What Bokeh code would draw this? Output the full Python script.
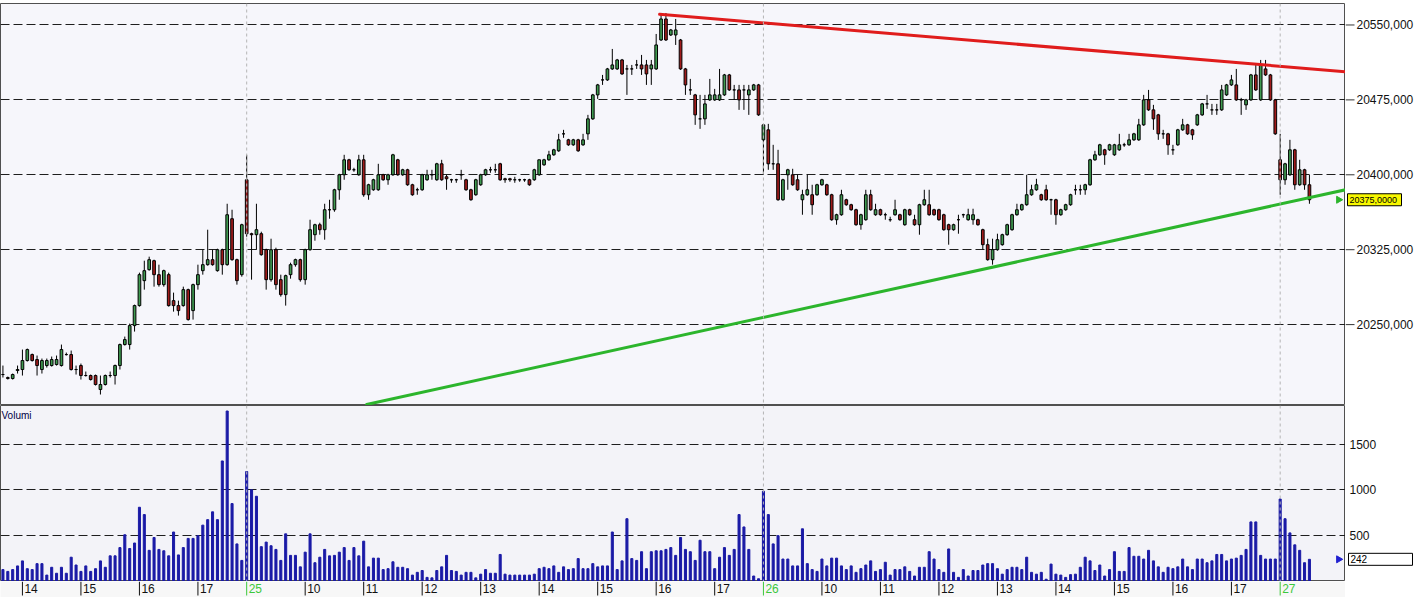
import numpy as np
from bokeh.plotting import figure
from bokeh.models import (ColumnDataSource, Range1d, FixedTicker, Span, Label, Grid)
from bokeh.layouts import column, row
from bokeh.embed import file_html
from bokeh.resources import INLINE
from bokeh.core.properties import value

# ---------------- data (5-minute bars, index 0 = 13:40 of first day) ----------------
opens = [20200, 20197, 20196, 20204, 20205, 20214, 20220, 20215, 20205, 20209,
         20209, 20210, 20209, 20220, 20220, 20205, 20209, 20199, 20199, 20199,
         20185, 20190, 20199, 20199, 20209, 20230, 20230, 20249, 20269, 20294,
         20305, 20314, 20300, 20290, 20300, 20274, 20269, 20269, 20285, 20264,
         20290, 20304, 20310, 20315, 20304, 20325, 20310, 20356, 20315, 20300,
         # day 25
         20395, 20341, 20340, 20341, 20325, 20295, 20325, 20295, 20280, 20300,
         20310, 20315, 20295, 20325, 20340, 20350, 20345, 20365, 20365, 20385,
         20400, 20415, 20405, 20400, 20415, 20380, 20385, 20385, 20400, 20395,
         20400, 20415, 20400, 20405, 20390, 20385, 20385, 20395, 20400, 20395,
         20411, 20398, 20395, 20395, 20400, 20395, 20385, 20380, 20390, 20400,
         20405, 20405, 20411, 20396, 20396, 20395, 20395, 20395, 20395, 20395,
         20400, 20410, 20415, 20420, 20424, 20441, 20435, 20430, 20435, 20430,
         20441, 20456, 20480, 20495, 20495, 20506, 20506, 20515, 20506, 20506,
         20510, 20510, 20510, 20506, 20506, 20535, 20556, 20540, 20540, 20535,
         20506, 20485, 20480, 20456, 20456, 20475, 20475, 20475, 20480, 20500,
         20485, 20485, 20485, 20480, 20485, 20490,
         # day 26
         20435, 20445, 20411, 20411, 20375, 20400, 20400, 20395, 20375, 20380,
         20380, 20380, 20390, 20390, 20380, 20355, 20360, 20375, 20370, 20365,
         20350, 20355, 20380, 20360, 20365, 20360, 20355, 20360, 20360, 20350,
         20365, 20355, 20350, 20370, 20370, 20365, 20365, 20360, 20350, 20345,
         20355, 20360, 20355, 20355, 20355, 20345, 20330, 20315, 20325, 20330,
         20340, 20345, 20360, 20365, 20370, 20380, 20385, 20380, 20385, 20375,
         20375, 20360, 20365, 20370, 20385, 20385, 20385, 20390, 20415, 20420,
         20425, 20425, 20420, 20425, 20430, 20430, 20435, 20435, 20450, 20475,
         20465, 20460, 20441, 20441, 20425, 20430, 20445, 20450, 20445, 20450,
         20460, 20471, 20465, 20465, 20465, 20480, 20490, 20490, 20475, 20470,
         20475, 20500, 20475, 20506, 20500, 20475,
         # day 27
         20415, 20395, 20400, 20425, 20390, 20405, 20390]

highs = [20209, 20198, 20201, 20209, 20225, 20226, 20221, 20219, 20216, 20216,
         20218, 20219, 20230, 20222, 20224, 20209, 20211, 20203, 20200, 20200,
         20199, 20200, 20203, 20210, 20231, 20238, 20251, 20270, 20302, 20314,
         20318, 20315, 20310, 20305, 20302, 20282, 20274, 20288, 20286, 20291,
         20310, 20325, 20345, 20325, 20326, 20326, 20371, 20365, 20316, 20351,
         20420, 20342, 20371, 20343, 20326, 20336, 20327, 20300, 20300, 20312,
         20316, 20316, 20326, 20355, 20351, 20352, 20371, 20375, 20386, 20401,
         20420, 20416, 20407, 20420, 20420, 20391, 20396, 20411, 20401, 20401,
         20421, 20416, 20406, 20406, 20391, 20387, 20401, 20405, 20405, 20412,
         20415, 20400, 20396, 20396, 20405, 20396, 20386, 20396, 20401, 20406,
         20408, 20411, 20412, 20397, 20397, 20398, 20396, 20396, 20396, 20406,
         20415, 20416, 20424, 20426, 20441, 20445, 20436, 20436, 20436, 20441,
         20460, 20481, 20491, 20500, 20507, 20526, 20516, 20516, 20510, 20510,
         20515, 20520, 20515, 20515, 20541, 20560, 20562, 20546, 20556, 20536,
         20507, 20496, 20481, 20480, 20480, 20496, 20486, 20506, 20501, 20501,
         20490, 20490, 20490, 20490, 20491, 20491,
         20451, 20451, 20430, 20425, 20396, 20406, 20406, 20400, 20385, 20400,
         20390, 20391, 20396, 20391, 20381, 20361, 20385, 20376, 20371, 20366,
         20361, 20385, 20385, 20371, 20366, 20362, 20358, 20375, 20361, 20366,
         20366, 20360, 20371, 20385, 20385, 20366, 20366, 20361, 20351, 20351,
         20360, 20361, 20366, 20366, 20356, 20346, 20336, 20336, 20341, 20341,
         20351, 20361, 20371, 20371, 20400, 20390, 20396, 20381, 20390, 20376,
         20376, 20366, 20371, 20381, 20390, 20390, 20391, 20416, 20424, 20431,
         20426, 20431, 20431, 20441, 20432, 20441, 20442, 20456, 20480, 20485,
         20470, 20461, 20445, 20442, 20430, 20446, 20456, 20451, 20446, 20461,
         20472, 20480, 20471, 20471, 20490, 20491, 20500, 20506, 20477, 20476,
         20501, 20510, 20515, 20515, 20501, 20476,
         20441, 20412, 20435, 20426, 20415, 20406, 20400]

lows = [20197, 20195, 20195, 20201, 20199, 20213, 20213, 20199, 20201, 20207,
        20208, 20209, 20208, 20219, 20204, 20200, 20195, 20198, 20194, 20189,
        20180, 20189, 20197, 20190, 20205, 20229, 20225, 20243, 20268, 20285,
        20304, 20288, 20288, 20288, 20268, 20263, 20259, 20268, 20254, 20255,
        20285, 20300, 20309, 20309, 20303, 20300, 20309, 20314, 20290, 20298,
        20338, 20295, 20325, 20319, 20285, 20293, 20285, 20278, 20269, 20296,
        20308, 20293, 20290, 20324, 20334, 20340, 20335, 20356, 20363, 20375,
        20395, 20404, 20403, 20399, 20378, 20375, 20384, 20384, 20394, 20390,
        20399, 20399, 20399, 20389, 20379, 20380, 20384, 20394, 20395, 20394,
        20394, 20385, 20392, 20392, 20395, 20384, 20374, 20379, 20389, 20399,
        20402, 20402, 20394, 20392, 20393, 20392, 20393, 20393, 20389, 20394,
        20399, 20409, 20414, 20419, 20423, 20437, 20429, 20429, 20423, 20429,
        20435, 20455, 20476, 20490, 20494, 20505, 20505, 20500, 20480, 20500,
        20506, 20500, 20490, 20490, 20505, 20534, 20534, 20539, 20530, 20505,
        20480, 20480, 20450, 20446, 20450, 20474, 20474, 20474, 20479, 20484,
        20475, 20465, 20465, 20460, 20484, 20459,
        20400, 20405, 20405, 20374, 20374, 20385, 20389, 20384, 20360, 20379,
        20360, 20379, 20389, 20379, 20354, 20350, 20359, 20369, 20364, 20349,
        20345, 20354, 20364, 20359, 20359, 20355, 20353, 20359, 20354, 20349,
        20359, 20349, 20340, 20369, 20359, 20359, 20354, 20344, 20330, 20344,
        20341, 20357, 20354, 20350, 20349, 20325, 20314, 20310, 20324, 20329,
        20339, 20344, 20359, 20364, 20369, 20379, 20384, 20374, 20374, 20360,
        20350, 20359, 20364, 20369, 20380, 20380, 20380, 20389, 20414, 20419,
        20410, 20424, 20419, 20424, 20428, 20429, 20434, 20434, 20449, 20464,
        20445, 20435, 20436, 20420, 20420, 20429, 20444, 20440, 20435, 20449,
        20459, 20466, 20460, 20460, 20464, 20479, 20489, 20474, 20460, 20465,
        20474, 20484, 20474, 20499, 20474, 20440,
        20380, 20390, 20399, 20385, 20389, 20385, 20371]

closes = [20200, 20196, 20200, 20205, 20214, 20225, 20214, 20209, 20214, 20214,
          20215, 20215, 20225, 20220, 20205, 20205, 20199, 20199, 20195, 20190,
          20190, 20199, 20199, 20209, 20230, 20235, 20249, 20269, 20300, 20304,
          20315, 20300, 20290, 20304, 20269, 20269, 20264, 20285, 20255, 20290,
          20300, 20310, 20315, 20310, 20325, 20310, 20360, 20315, 20294, 20350,
          20341, 20340, 20345, 20320, 20295, 20325, 20290, 20280, 20299, 20310,
          20315, 20295, 20325, 20345, 20350, 20345, 20365, 20365, 20385, 20400,
          20415, 20405, 20405, 20415, 20380, 20390, 20395, 20400, 20395, 20400,
          20420, 20400, 20405, 20390, 20380, 20385, 20400, 20400, 20400, 20411,
          20395, 20396, 20395, 20395, 20400, 20385, 20375, 20395, 20400, 20405,
          20405, 20405, 20395, 20395, 20395, 20395, 20395, 20395, 20390, 20405,
          20415, 20415, 20420, 20425, 20435, 20441, 20430, 20435, 20424, 20435,
          20456, 20480, 20490, 20495, 20506, 20510, 20515, 20501, 20506, 20506,
          20510, 20506, 20501, 20510, 20530, 20556, 20535, 20545, 20545, 20506,
          20490, 20485, 20460, 20456, 20471, 20480, 20480, 20480, 20500, 20485,
          20485, 20475, 20485, 20485, 20490, 20460,
          20450, 20411, 20411, 20375, 20395, 20405, 20390, 20385, 20380, 20385,
          20370, 20390, 20395, 20380, 20355, 20360, 20380, 20370, 20365, 20350,
          20360, 20380, 20365, 20365, 20360, 20360, 20355, 20365, 20355, 20365,
          20360, 20350, 20370, 20375, 20360, 20360, 20355, 20345, 20345, 20350,
          20355, 20360, 20360, 20360, 20350, 20330, 20315, 20325, 20335, 20340,
          20350, 20360, 20365, 20370, 20380, 20385, 20390, 20375, 20375, 20375,
          20360, 20365, 20370, 20380, 20385, 20385, 20390, 20415, 20420, 20430,
          20420, 20430, 20430, 20430, 20430, 20435, 20441, 20450, 20475, 20465,
          20456, 20441, 20441, 20430, 20425, 20445, 20450, 20441, 20440, 20460,
          20471, 20471, 20465, 20465, 20485, 20490, 20495, 20475, 20475, 20475,
          20500, 20485, 20510, 20500, 20475, 20441,
          20395, 20411, 20425, 20390, 20405, 20390, 20375]

volumes = [130, 110, 130, 170, 225, 140, 130, 195, 195, 70,
           155, 90, 155, 90, 265, 180, 110, 170, 110, 140,
           225, 155, 280, 280, 370, 510, 360, 420, 810, 730,
           340, 480, 350, 335, 280, 540, 290, 370, 470, 470,
           500, 615, 675, 760, 675, 1315, 1860, 850, 410, 230,
           1200, 1000, 930, 380, 430, 390, 350, 230, 520, 285,
           285, 160, 320, 520, 205, 265, 350, 280, 285, 320,
           370, 230, 370, 280, 440, 160, 255, 255, 130, 140,
           215, 155, 155, 140, 70, 100, 120, 45, 40, 120,
           160, 285, 120, 110, 70, 100, 100, 40, 80, 130,
           90, 90, 295, 80, 70, 70, 70, 70, 70, 80,
           140, 155, 140, 170, 100, 160, 130, 140, 250, 140,
           140, 195, 160, 170, 170, 540, 130, 225, 685, 250,
           230, 325, 140, 325, 335, 335, 350, 370, 285, 480,
           350, 325, 230, 450, 325, 325, 140, 265, 370, 285,
           350, 730, 595, 350, 60, 30,
           985, 730, 410, 500, 245, 245, 170, 170, 575, 195,
           130, 110, 245, 170, 255, 255, 170, 130, 170, 100,
           140, 180, 225, 110, 130, 210, 70, 130, 130, 160,
           110, 60, 155, 155, 325, 245, 130, 100, 355, 100,
           45, 130, 60, 120, 120, 180, 195, 195, 140, 80,
           130, 155, 155, 130, 265, 100, 80, 100, 25, 190,
           80, 70, 45, 75, 80, 155, 265, 225, 120, 180,
           60, 130, 325, 110, 110, 370, 275, 275, 245, 340,
           225, 160, 100, 155, 140, 160, 245, 160, 130, 245,
           245, 205, 225, 295, 295, 225, 245, 255, 285, 350,
           650, 650, 285, 245, 245, 245,
           900, 685, 530, 400, 340, 205, 242]

price_ticks = [20250, 20325, 20400, 20475, 20550]
price_tick_labels = ["20250,000", "20325,000", "20400,000", "20475,000", "20550,000"]
volume_ticks = [500, 1000, 1500]
volume_tick_labels = ["500", "1000", "1500"]
time_tick_pos = [4, 16, 28, 40, 50, 62, 74, 86, 98, 110, 122, 134, 146,
                 156, 168, 180, 192, 204, 216, 228, 240, 252, 262]
time_tick_labels = ["14", "15", "16", "17", "25", "10", "11", "12", "13", "14", "15", "16", "17",
                    "26", "10", "11", "12", "13", "14", "15", "16", "17", "27"]
time_tick_is_day = [0, 0, 0, 0, 1, 0, 0, 0, 0, 0, 0, 0, 0,
                    1, 0, 0, 0, 0, 0, 0, 0, 0, 1]
day_start_bars = [50, 156, 262]
red_trend_x = [134.7, 275.4]
red_trend_y = [20560.7, 20503.2]
green_trend_x = [74.6, 275.4]
green_trend_y = [20170.0, 20385.0]
last_price_text = "20375,0000"
last_volume_text = "242"

# ---------------- styling / layout ----------------
UP = "#3f9a50"
DOWN = "#a01b1b"
VOL = "#1a1aa6"
FONT = "Liberation Sans"
MAIN_W = 1345          # width of the chart frames
SIDE_W = 69            # width of the right-hand label column
P_H, V_H, T_H = 405, 176, 16
X_START, X_END = -0.5, 275.4
P_LO, P_HI = 20169.0, 20571.5
V_HI = 1920


def strip_grids(fig):
    fig.center = [r for r in fig.center if not isinstance(r, Grid)]


def base_fig(**kw):
    f = figure(output_backend="svg", toolbar_location=None,
               x_axis_location=None, y_axis_location=None,
               min_border_left=0, min_border_right=0, min_border_bottom=0,
               **kw)
    strip_grids(f)
    return f


n = len(closes)
src = ColumnDataSource(dict(
    x=list(range(n)), open=opens, high=highs, low=lows, close=closes, volume=volumes,
    top=[max(o, c) for o, c in zip(opens, closes)],
    bottom=[min(o, c) for o, c in zip(opens, closes)],
    color=[UP if c >= o else DOWN for o, c in zip(opens, closes)],
))

xr = Range1d(X_START, X_END)
pyr = Range1d(P_LO, P_HI)
vyr = Range1d(0, V_HI)
side_xr = Range1d(0, SIDE_W)

# ---------------- price panel ----------------
p = base_fig(width=MAIN_W, height=P_H, x_range=xr, y_range=pyr, min_border_top=3,
             background_fill_color="#f6f6fb", border_fill_color="white",
             outline_line_color="#505050", outline_line_width=1)
p.add_layout(Grid(dimension=1, ticker=FixedTicker(ticks=price_ticks),
                  grid_line_color="#1e1e1e", grid_line_dash="9 4", grid_line_width=1), "center")
for b in day_start_bars:
    p.add_layout(Span(location=b, dimension="height", line_color="#b4b4b4",
                      line_dash="3 3", line_width=1))

p.segment(x0="x", y0="low", x1="x", y1="high", source=src, line_color="black", line_width=1)
p.vbar(x="x", width=0.55, top="top", bottom="bottom", source=src,
       fill_color="color", line_color="black", line_width=1)
p.line(red_trend_x, red_trend_y, line_color="#e01c1c", line_width=3, line_cap="round")
p.line(green_trend_x, green_trend_y, line_color="#2cb52c", line_width=3, line_cap="round")
p.scatter(x=[X_END - 1.4], y=[closes[-1]], marker="triangle", size=7,
          angle=-np.pi / 2, color="#2cb52c")

# right-hand price labels
pl = base_fig(width=SIDE_W, height=P_H, x_range=side_xr, y_range=pyr, min_border_top=3,
              background_fill_color="white", border_fill_color="white",
              outline_line_color=None)
pl.segment(x0=[0] * len(price_ticks), y0=price_ticks, x1=[9] * len(price_ticks),
           y1=price_ticks, line_color="#333333", line_width=1)
pl.text(x=[11] * len(price_ticks), y=price_ticks, text=price_tick_labels,
        text_font=value(FONT), text_font_size=value("12px"), text_color="#111111",
        text_baseline="middle", text_align="left")
pl.rect(x=[29], y=[closes[-1]], width=54, height=12, height_units="screen",
        fill_color="#f8f800", line_color="black", line_width=1)
pl.text(x=[4], y=[closes[-1]], text=[last_price_text],
        text_font=value(FONT), text_font_size=value("9px"), text_color="black",
        text_baseline="middle", text_align="left")

# ---------------- volume panel ----------------
v = base_fig(width=MAIN_W, height=V_H, x_range=xr, y_range=vyr, min_border_top=0,
             background_fill_color="#f3f3f8", border_fill_color="white",
             outline_line_color="#505050", outline_line_width=1)
v.add_layout(Grid(dimension=1, ticker=FixedTicker(ticks=volume_ticks),
                  grid_line_color="#1e1e1e", grid_line_dash="9 4", grid_line_width=1), "center")
for b in day_start_bars:
    v.add_layout(Span(location=b, dimension="height", line_color="#b4b4b4",
                      line_dash="3 3", line_width=1))
v.vbar(x="x", width=0.42, top="volume", bottom=0, source=src, color=VOL)
v.add_layout(Label(x=X_START, y=V_HI, x_offset=1, y_offset=-4, text="Volumi",
                   text_baseline="top", text_align="left", text_font=FONT,
                   text_font_size="10px", text_color="#000044"))
v.scatter(x=[X_END - 1.4], y=[volumes[-1]], marker="triangle", size=7,
          angle=-np.pi / 2, color="#2020d0")

vl = base_fig(width=SIDE_W, height=V_H, x_range=side_xr, y_range=vyr, min_border_top=0,
              background_fill_color="white", border_fill_color="white",
              outline_line_color=None)
vl.text(x=[4] * len(volume_ticks), y=volume_ticks, text=volume_tick_labels,
        text_font=value(FONT), text_font_size=value("12px"), text_color="#111111",
        text_baseline="middle", text_align="left")
vl.rect(x=[35], y=[volumes[-1]], width=64, height=12, height_units="screen",
        fill_color="white", line_color="black", line_width=1)
vl.text(x=[5], y=[volumes[-1]], text=[last_volume_text],
        text_font=value(FONT), text_font_size=value("10px"), text_color="black",
        text_baseline="middle", text_align="left")

# ---------------- time labels strip ----------------
t = base_fig(width=MAIN_W, height=T_H, x_range=xr, y_range=Range1d(0, T_H), min_border_top=0,
             background_fill_color="#f7f7f7", border_fill_color="#f7f7f7",
             outline_line_color=None)
tcolors = ["#3cc83c" if d else "#111111" for d in time_tick_is_day]
tsrc = ColumnDataSource(dict(x=time_tick_pos, text=time_tick_labels, color=tcolors))
t.segment(x0="x", y0=T_H, x1="x", y1=2, source=tsrc, line_color="color", line_width=1)
t.text(x="x", y=T_H - 2, text="text", source=tsrc, x_offset=2,
       text_font=value(FONT), text_font_size=value("12px"), text_color="color",
       text_baseline="top", text_align="left")

layout = column(row(p, pl), row(v, vl), t)
open("out.html", "w").write(file_html(layout, INLINE))
